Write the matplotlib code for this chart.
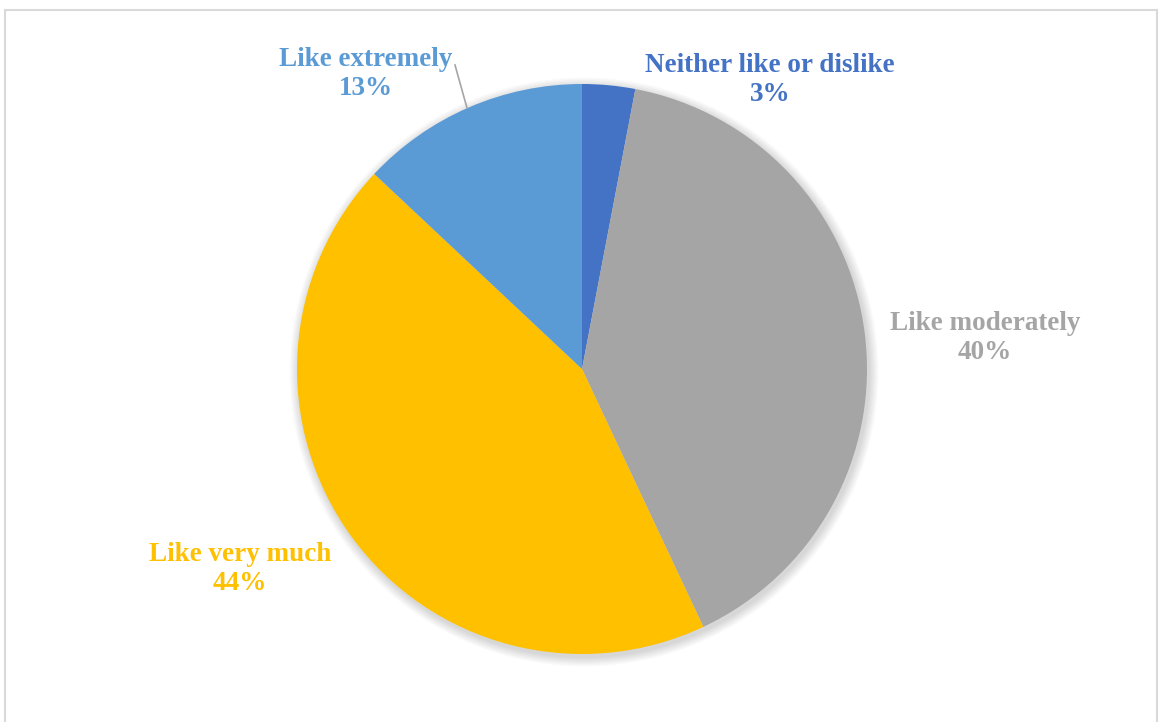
import numpy as np
import matplotlib.pyplot as plt
from matplotlib.patches import Circle, Rectangle

# survey answers, clockwise from 12 o'clock
categories = ['Neither like or dislike', 'Like moderately', 'Like very much', 'Like extremely']
shares = [3, 40, 44, 13]
colors = ['#4472C4', '#A5A5A5', '#FFC000', '#5B9BD5']

W, H = 1162, 722
fig = plt.figure(figsize=(W / 100, H / 100), dpi=100)
ax = fig.add_axes([0, 0, 1, 1])

cx, cy, r = 582, H - 369, 285

# soft drop shadow under the pie
for k in range(8):
    ax.add_patch(Circle((cx + 2, cy - 3), r + 1 + k * 1.2, color='black',
                        alpha=0.018, lw=0, zorder=0))

wedges, _ = ax.pie(shares, colors=colors, startangle=90, counterclock=False,
                   center=(cx, cy), radius=r, frame=True,
                   wedgeprops=dict(linewidth=0))

# label positions (pixel space)
label_pos = {
    'Neither like or dislike': (770, 80),
    'Like moderately': (985, 338),
    'Like very much': (240, 569),
    'Like extremely': (366, 74),
}
font = dict(family=['Liberation Serif', 'DejaVu Serif'], weight='bold', fontsize=19.5)
for name, val, col in zip(categories, shares, colors):
    x, y = label_pos[name]
    ax.text(x, H - y, f'{name}\n{val}%', color=col, ha='center', va='center',
            linespacing=1.25, **font)

# leader line for the small label
ax.plot([455, 467], [H - 65, H - 108], color='#A5A5A5', lw=1.2)

# chart border
ax.add_patch(Rectangle((5, -20), 1152, H - 10 + 20, fill=False,
                       edgecolor='#D9D9D9', lw=1.5))

ax.set_xlim(0, W)
ax.set_ylim(0, H)
ax.set_aspect('auto')
ax.axis('off')

fig.savefig('out.png', dpi=100, facecolor='white')
